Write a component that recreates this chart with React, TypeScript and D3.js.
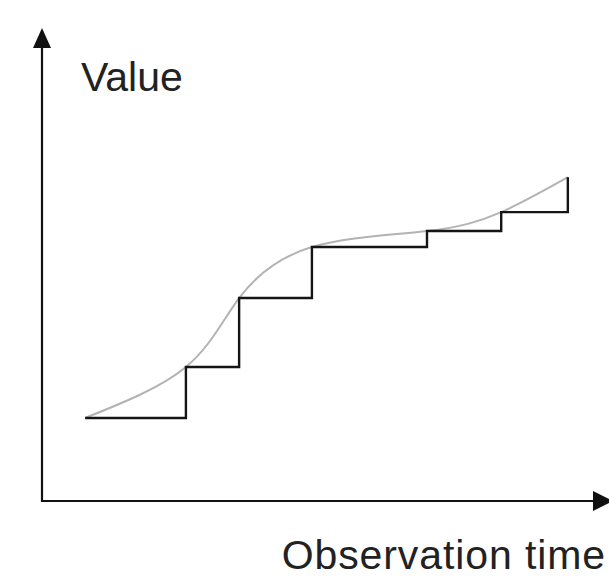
import * as d3 from 'd3'

// observation times (x) and the value seen at each one (y), both in 0..100 units
const obsTimes = [7.7, 25.7, 35.2, 48.2, 68.75, 82, 93.9]
const obsValues = [17.6, 28.4, 43.0, 53.8, 57.2, 61.2, 68.6]
const xLabel = 'Observation time'
const yLabel = 'Value'

const W = 609
const H = 586

export default function App() {
  const x = d3.scaleLinear().domain([0, 100]).range([42, 602])
  const y = d3.scaleLinear().domain([0, 100]).range([501, 29])

  const pts: [number, number][] = obsTimes.map((t, i) => [t, obsValues[i]])

  const smooth = d3.line<[number, number]>()
    .x(d => x(d[0]))
    .y(d => y(d[1]))
    .curve(d3.curveNatural)

  const steps = d3.line<[number, number]>()
    .x(d => x(d[0]))
    .y(d => y(d[1]))
    .curve(d3.curveStepAfter)

  const x0 = x(0)
  const y0 = y(0)
  const font = '"Liberation Sans", Arial, Helvetica, sans-serif'

  return (
    <svg
      width={W}
      height={H}
      style={{ position: 'absolute', left: 0, top: 0, background: '#fff' }}
    >
      {/* axes */}
      <line x1={x0} y1={y0 + 1} x2={x0} y2={44} stroke="#111" strokeWidth={2.2} />
      <line x1={x0 - 1} y1={y0} x2={596} y2={y0} stroke="#111" strokeWidth={2.2} />
      <path d={`M${x0},28 L${x0 - 9},48 L${x0 + 9},48 Z`} fill="#111" />
      <path d={`M613,${y0} L593,${y0 - 10} L593,${y0 + 10} Z`} fill="#111" />

      {/* underlying smooth value */}
      <path d={smooth(pts) ?? ''} fill="none" stroke="#b3b3b3" strokeWidth={2} />

      {/* observed step function */}
      <path d={steps(pts) ?? ''} fill="none" stroke="#151515" strokeWidth={2.4} />

      <text x={81} y={91} fontFamily={font} fontSize={41} fill="#222">
        {yLabel}
      </text>
      <text x={606} y={569} textAnchor="end" fontFamily={font} fontSize={41} letterSpacing={0.9} fill="#222">
        {xLabel}
      </text>
    </svg>
  )
}
